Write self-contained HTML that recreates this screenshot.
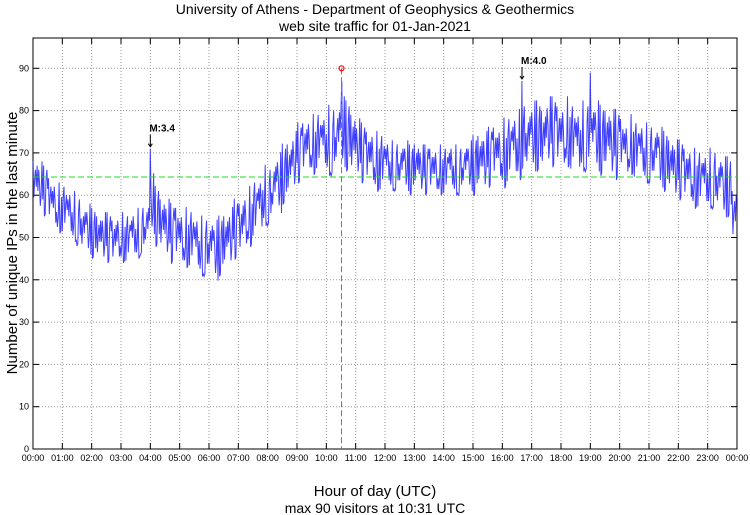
<!DOCTYPE html>
<html><head><meta charset="utf-8"><style>
body{margin:0;background:#fff;}
svg{display:block;font-family:"Liberation Sans",sans-serif;}
</style></head><body>
<svg id="c" width="750" height="515"></svg>
<script>
const hourLabels=["00:00","01:00","02:00","03:00","04:00","05:00","06:00","07:00","08:00","09:00","10:00","11:00","12:00","13:00","14:00","15:00","16:00","17:00","18:00","19:00","20:00","21:00","22:00","23:00","00:00"];
const yTicks=[0,10,20,30,40,50,60,70,80,90];
const means=[63,62,61,59,58,57, 57,56,55,54,52,52, 51,50,50,50,49,50, 50,50,51,51,52,53,
58,55,53,52,51,51, 50,50,50,49,48,48, 48,47,48,49,50,52, 52,54,55,57,58,60,
60,62,63,65,66,68, 70,71,72,72,73,73, 73,73,74,75,74,72, 71,70,69,69,68,68,
68,67,67,67,67,66, 67,66,66,66,66,66, 66,67,66,66,67,67, 67,68,68,69,70,70,
70,71,72,72,74,73, 74,74,73,75,75,74, 74,75,74,73,74,74, 74,74,73,73,72,72,
72,71,72,71,71,70, 70,70,69,68,67,66, 66,65,65,64,64,64, 64,64,63,62,62,55];
const spreads=[5,5,5,5,6,6,6,6,6,6,7,6,5,5,5,6,7,7,7,7,6,6,6,6];
const spikeHours=[4.0,10.517,16.67,19.0];
const spikeValues=[71,87,87,89];
const meanValue=64.3;
const maxHour=10.517, maxValue=90;
const events=[{h:4.0,label:"M:3.4",v:71},{h:16.67,label:"M:4.0",v:87}];

const X0=33,X1=737,Y0=449,PPU=4.23,TOP=38;
const xs=h=>X0+(X1-X0)*h/24;
const ys=v=>Y0-v*PPU;
const svg=document.getElementById('c');
const NS="http://www.w3.org/2000/svg";
function mk(t,a,p){const e=document.createElementNS(NS,t);for(const k in a)e.setAttribute(k,a[k]);(p||svg).appendChild(e);return e;}

let e=mk('rect',{x:X0,y:TOP,width:X1-X0,height:Y0-TOP,fill:'#fff',stroke:'#000','stroke-width':1});



hourLabels.forEach((l,i)=>{const x=xs(i);
 if(i>0&&i<24){const g=mk('line',{x1:x,x2:x,y1:TOP,y2:Y0,stroke:'#999','stroke-dasharray':'1,2'});
 
 mk('line',{x1:x,x2:x,y1:Y0,y2:Y0-6,stroke:'#000'});mk('line',{x1:x,x2:x,y1:TOP,y2:TOP+6,stroke:'#000'});}
 const t=mk('text',{x:x,y:Y0+12,'font-size':9,'text-anchor':'middle',fill:'#000'});t.textContent=l;
 });
yTicks.forEach(v=>{const y=ys(v);
 if(v>0){const g=mk('line',{x1:X0,x2:X1,y1:y,y2:y,stroke:'#999','stroke-dasharray':'1,2'});
 
 mk('line',{x1:X0,x2:X0+6,y1:y,y2:y,stroke:'#000'});mk('line',{x1:X1,x2:X1-6,y1:y,y2:y,stroke:'#000'});}
 const t=mk('text',{x:X0-4,y:y+3,'font-size':9,'text-anchor':'end',fill:'#000'});t.textContent=v;
 });

const pat=[1,-0.4,0.6,-1.1,0.2,-0.7,1.2,-0.2,0.5,-0.9,0.1,-1.2,0.8];
let d="";let n=means.length;const SUB=6;
for(let i=0;i<n;i++){const sp=spreads[Math.floor(i/6)];
 for(let k=0;k<SUB;k++){const h=(i+k/SUB)/6;let v=means[i]+pat[(k*5+i*7)%13]*sp;
 spikeHours.forEach((sh,j)=>{if(Math.abs(sh-h)<1/72)v=spikeValues[j];});
 d+=(d?"L":"M")+xs(h).toFixed(1)+","+ys(v).toFixed(1);}}
e=mk('path',{d:d,fill:'none',stroke:'#1010ff','stroke-width':1,'stroke-opacity':0.8});



e=mk('line',{x1:X0,x2:X1,y1:ys(meanValue),y2:ys(meanValue),stroke:'#22dd22','stroke-dasharray':'6,3','stroke-width':1});


const mx=Math.round(xs(maxHour))+0.5;
e=mk('line',{x1:mx,x2:mx,y1:ys(maxValue),y2:Y0,stroke:'#ff4040','stroke-dasharray':'6,3','stroke-width':1});


e=mk('circle',{cx:mx,cy:ys(maxValue),r:2.5,fill:'none',stroke:'red','stroke-width':1.2});



events.forEach(ev=>{const x=xs(ev.h),y=ys(ev.v);
 const a=mk('path',{d:`M${x},${y-14}L${x},${y-2}M${x-2},${y-5}L${x},${y-2}L${x+2},${y-5}`,stroke:'#000',fill:'none'});
 
 const t=mk('text',{x:x-1,y:y-17,'font-size':10,'font-weight':'bold',fill:'#000'});t.textContent=ev.label;
 });

function txt(x,y,s,size,name,extra){const t=mk('text',Object.assign({x:x,y:y,'font-size':size,'text-anchor':'middle',fill:'#000'},extra||{}));t.textContent=s;
 return t;}
txt(375,14,"University of Athens - Department of Geophysics & Geothermics",14,'chart-title');
txt(375,31,"web site traffic for 01-Jan-2021",14,'chart-subtitle');
txt(375,496,"Hour of day (UTC)",15,'x-axis-title');
txt(375,513,"max 90 visitors at 10:31 UTC",14,'x-axis-subtitle');
txt(17,243,"Number of unique IPs in the last minute",15,'y-axis-title',{transform:'rotate(-90 17 243)'});
</script>
</body></html>
